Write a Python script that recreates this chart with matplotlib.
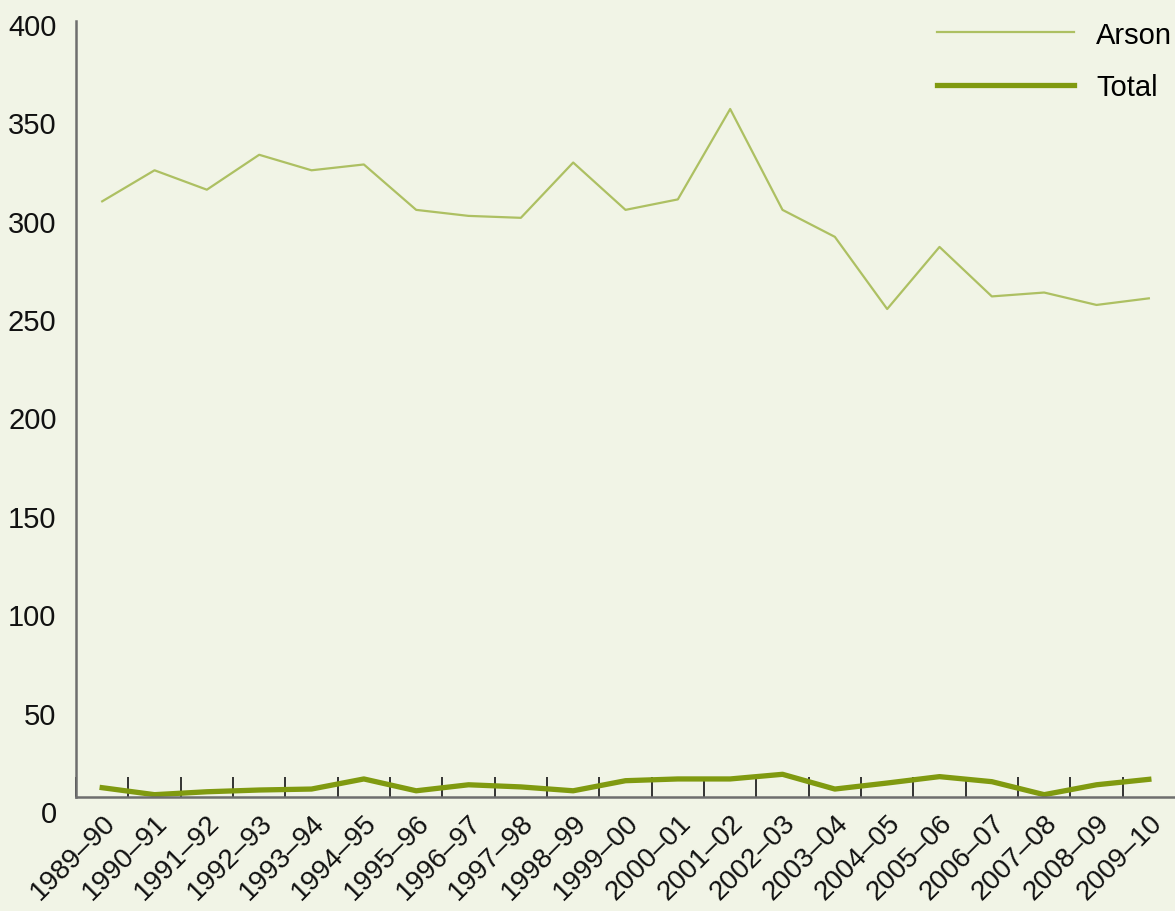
import numpy as np
import matplotlib
matplotlib.use("Agg")
import matplotlib.pyplot as plt
from matplotlib.transforms import ScaledTranslation

plt.rcParams['font.family'] = ['Liberation Sans', 'DejaVu Sans']

years = ['1989–90', '1990–91', '1991–92', '1992–93', '1993–94', '1994–95',
         '1995–96', '1996–97', '1997–98', '1998–99', '1999–00', '2000–01',
         '2001–02', '2002–03', '2003–04', '2004–05', '2005–06', '2006–07',
         '2007–08', '2008–09', '2009–10']
arson = [307, 323, 313, 331, 323, 326, 302.6, 299.5, 298.5, 327, 302.6, 308,
         354.6, 302.6, 288.7, 251.5, 283.5, 258, 260, 253.6, 257]
total = [4.8, 1.2, 2.7, 3.6, 4.1, 9.3, 3.2, 6.3, 5.2, 3.2, 8.4, 9.3,
         9.3, 11.7, 4.1, 7.2, 10.5, 7.9, 1.2, 6.3, 9.1]
yticks = [0, 50, 100, 150, 200, 250, 300, 350, 400]

bg = '#f1f4e6'
fig = plt.figure(figsize=(11.75, 9.12), dpi=100, facecolor=bg)
ax = fig.add_axes([0.0647, 0.125, 0.9353, 0.851], facecolor=bg)

x = np.arange(len(years))
ax.plot(x, arson, color='#adc062', lw=1.6, label='Arson')
ax.plot(x, total, color='#809a10', lw=3.8, label='Total')

ax.set_xlim(-0.5, len(years) - 0.5)
ax.set_ylim(0, 400)
ax.set_yticks(yticks)
ax.set_xticks(x)
ax.set_xticklabels(years, rotation=45, ha='right', rotation_mode='anchor')
ax.set_xticks(np.arange(len(years)) - 0.5, minor=True)

ax.tick_params(axis='y', length=0, pad=14, labelsize=21, labelcolor='#111111')
ax.tick_params(axis='x', which='major', length=0, pad=9, labelsize=20, labelcolor='#111111')
ax.tick_params(axis='x', which='minor', direction='in', length=14.4, width=1.4, color='#333333')

# y labels in the original sit a little low, more so near the bottom
for tick, v in zip(ax.yaxis.get_major_ticks(), yticks):
    off = (14 - 11 * v / 400) / 100
    lab = tick.label1
    lab.set_transform(lab.get_transform() + ScaledTranslation(0, -off, fig.dpi_scale_trans))

for s in ['top', 'right']:
    ax.spines[s].set_visible(False)
for s in ['left', 'bottom']:
    ax.spines[s].set_color('#6e6e6e')
    ax.spines[s].set_linewidth(1.8)

leg = ax.legend(loc='upper right', frameon=False, fontsize=21, handlelength=4.7,
                handletextpad=0.75, labelspacing=0.85, borderaxespad=0,
                borderpad=0.1, bbox_to_anchor=(1.0, 1.004))

fig.savefig('out.png', dpi=100, facecolor=bg)
